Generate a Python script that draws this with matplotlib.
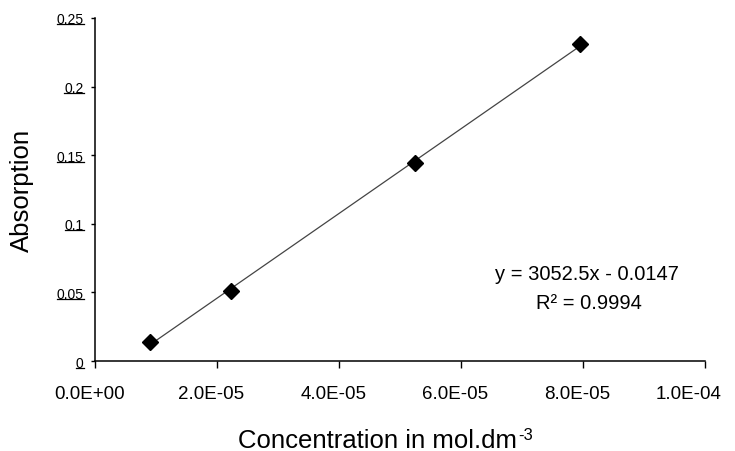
import matplotlib.pyplot as plt
import numpy as np
from matplotlib.lines import Line2D
from matplotlib.transforms import ScaledTranslation

plt.rcParams["font.family"] = ["Liberation Sans", "DejaVu Sans"]

concentration = [9.0e-6, 2.23e-5, 5.25e-5, 7.95e-5]
absorption = [0.014, 0.051, 0.144, 0.231]
x_tick_values = [0, 2e-5, 4e-5, 6e-5, 8e-5, 1e-4]
x_tick_labels = ["0.0E+00", "2.0E-05", "4.0E-05", "6.0E-05", "8.0E-05", "1.0E-04"]
y_tick_values = [0, 0.05, 0.1, 0.15, 0.2, 0.25]
y_tick_labels = ["0", "0.05", "0.1", "0.15", "0.2", "0.25"]
equation_line = "y = 3052.5x - 0.0147"
r_squared_line = "R² = 0.9994"


def underline_labels(fig, ax, renderer):
    # mathtext has no \underline, so draw a line under each y tick label
    inverse = fig.transFigure.inverted()
    for label in ax.get_yticklabels():
        if not label.get_text():
            continue
        box = label.get_window_extent(renderer)
        (x0, y0), (x1, _) = inverse.transform([(box.x0, box.y0 + 2), (box.x1, box.y0 + 2)])
        fig.add_artist(Line2D([x0, x1], [y0, y0], color="black", linewidth=0.9))


def shift_x_labels(fig, ax):
    # the original sits its labels a little left of the ticks, the last one more so
    labels = ax.get_xticklabels()
    for index, label in enumerate(labels):
        dx = -12 if index == len(labels) - 1 else -4
        label.set_transform(label.get_transform() + ScaledTranslation(dx / 72, 0, fig.dpi_scale_trans))


def add_unit_exponent(fig, ax, renderer):
    # plain hyphen superscript, as in the scanned original
    box = ax.xaxis.label.get_window_extent(renderer)
    x, y = fig.transFigure.inverted().transform((box.x1 + 1, box.y1 + 1))
    fig.text(x, y, "-3", fontsize=12, ha="left", va="top")


def main():
    fig = plt.figure(figsize=(7.35, 4.52), dpi=100)
    ax = fig.add_axes([0.129, 0.199, 0.83, 0.759])

    x = np.array(concentration)
    slope, intercept = np.polyfit(x, absorption, 1)
    line_x = np.array([x.min(), x.max()])
    ax.plot(line_x, slope * line_x + intercept, color="#444444", linewidth=0.9)
    ax.plot(concentration, absorption, "D", color="black", markersize=8.5)

    ax.set_xlim(0, 1.0e-4)
    ax.set_ylim(0, 0.25)
    ax.set_xticks(x_tick_values)
    ax.set_xticklabels(x_tick_labels)
    ax.set_yticks(y_tick_values)
    ax.set_yticklabels(y_tick_labels)

    ax.spines["top"].set_visible(False)
    ax.spines["right"].set_visible(False)
    for side in ("left", "bottom"):
        ax.spines[side].set_linewidth(1.1)
    ax.tick_params(axis="x", direction="out", length=5, width=1, labelsize=13.5, pad=12)
    ax.tick_params(axis="y", direction="out", length=3, width=1, labelsize=10, pad=5)

    ax.set_ylabel("Absorption", fontsize=18.5)
    ax.yaxis.set_label_coords(-0.10, 0.5)
    ax.set_xlabel("Concentration in mol.dm", fontsize=18.5)
    ax.xaxis.set_label_coords(0.464, -0.196)

    ax.text(0.807, 0.254, equation_line, transform=ax.transAxes, ha="center", va="center",
            fontsize=14.5)
    ax.text(0.810, 0.172, r_squared_line, transform=ax.transAxes, ha="center", va="center",
            fontsize=14.5)

    fig.canvas.draw()
    shift_x_labels(fig, ax)
    renderer = fig.canvas.get_renderer()
    underline_labels(fig, ax, renderer)
    add_unit_exponent(fig, ax, renderer)
    fig.savefig("out.png", dpi=100)


if __name__ == "__main__":
    main()
